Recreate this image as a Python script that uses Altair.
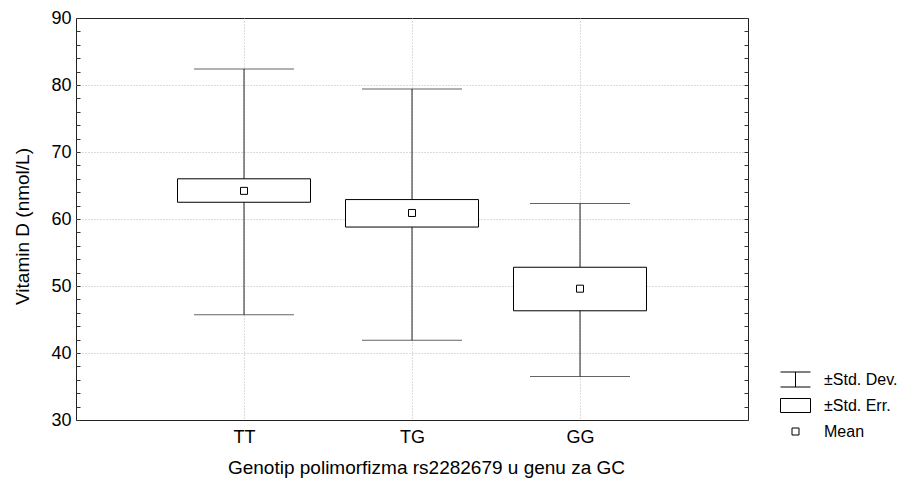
import altair as alt
import pandas as pd

genotypes = ["TT", "TG", "GG"]
means = [64.2, 60.9, 49.6]
se_low = [62.5, 58.8, 46.3]
se_high = [66.0, 62.9, 52.8]
sd_low = [45.7, 41.9, 36.5]
sd_high = [82.4, 79.4, 62.3]
y_major = [30, 40, 50, 60, 70, 80, 90]
y_minor = list(range(30, 91, 2))
legend_labels = ["±Std. Dev.", "±Std. Err.", "Mean"]
legend_paths = [
    "M-1.5,-0.75H1.5M0,-0.75V0.75M-1.5,0.75H1.5",
    "M-1.5,-0.7H1.5V0.7H-1.5Z",
    "M-0.35,-0.35H0.35V0.35H-0.35Z",
]

df = pd.DataFrame({
    "genotype": genotypes,
    "mean": means,
    "se_low": se_low,
    "se_high": se_high,
    "sd_low": sd_low,
    "sd_high": sd_high,
})
legend_df = pd.DataFrame({"label": legend_labels})

FONT = "Liberation Sans"
FS = 18
TFS = 19
GRID = "#b8b8b8"
yscale = alt.Scale(domain=[30, 90], nice=False, zero=False)

x_enc = alt.X(
    "genotype:N", sort=genotypes,
    scale=alt.Scale(type="point", padding=1),
    axis=alt.Axis(
        title="Genotip polimorfizma rs2282679 u genu za GC",
        labelAngle=0, ticks=False, domain=False, grid=True,
        gridDash=[1, 2], gridColor=GRID, gridWidth=1,
        labelFont=FONT, labelFontSize=FS, labelColor="black", labelPadding=8,
        titleFont=FONT, titleFontSize=TFS, titleFontWeight="normal",
        titleColor="black", titleX=350, titleY=47, titleBaseline="middle",
        titleAlign="center",
    ),
)

y_axis = alt.Axis(
    title="Vitamin D (nmol/L)",
    values=y_minor,
    labelExpr="datum.value % 10 == 0 ? datum.label : ''",
    offset=-4, tickSize=4, tickColor="#333333", tickWidth=1,
    domain=False, grid=True, gridDash=[1, 2], gridColor=GRID,
    gridOpacity=alt.condition("datum.value % 10 == 0 && datum.value > 30 && datum.value < 90", alt.value(1), alt.value(0)),
    labelFont=FONT, labelFontSize=FS, labelColor="black", labelPadding=5,
    titleFont=FONT, titleFontSize=TFS, titleFontWeight="normal",
    titleColor="black", titleX=-58, titleY=208, titleBaseline="middle",
    titleAlign="center", titleAngle=270,
)


def yenc(field):
    return alt.Y(f"{field}:Q", scale=yscale, axis=y_axis)


base = alt.Chart(df)

whisker = base.mark_rule(color="#222222", strokeWidth=1).encode(
    x=x_enc, y=yenc("sd_low"), y2="sd_high:Q"
)
cap_lo = base.mark_tick(color="#222222", thickness=1, size=100).encode(
    x=x_enc, y=yenc("sd_low")
)
cap_hi = base.mark_tick(color="#222222", thickness=1, size=100).encode(
    x=x_enc, y=yenc("sd_high")
)
box = base.mark_bar(fill="white", stroke="black", strokeWidth=1, size=133).encode(
    x=x_enc, y=yenc("se_low"), y2="se_high:Q"
)
mean_pt = base.mark_point(shape="square", size=49, filled=True, fill="white",
                          stroke="black", strokeWidth=1, opacity=1).encode(
    x=x_enc, y=yenc("mean")
)

legend_layer = alt.Chart(legend_df).transform_filter("false").mark_point(
    filled=False, color="black", strokeWidth=1, opacity=1
).encode(
    shape=alt.Shape(
        "label:N",
        scale=alt.Scale(domain=legend_labels, range=legend_paths),
        legend=alt.Legend(
            title=None, orient="none", legendX=709, legendY=351,
            padding=0, rowPadding=6, labelOffset=18,
            symbolSize=400, symbolStrokeWidth=1, symbolOpacity=1,
            symbolStrokeColor="black", symbolFillColor="white",
            labelFont=FONT, labelFontSize=16, labelColor="black",
        ),
    )
)

main = alt.layer(whisker, cap_lo, cap_hi, box, mean_pt, legend_layer)

right_ticks = base.mark_point(opacity=0).encode(
    x=x_enc,
    y=alt.Y("mean:Q", scale=yscale, axis=alt.Axis(
        orient="right", values=y_minor, offset=-4, tickSize=4,
        tickColor="#333333", labels=False, domain=False, grid=False, title=None,
    )),
)

chart = alt.layer(main, right_ticks).resolve_scale(y="independent").properties(
    width=672, height=402,
    autosize=alt.AutoSizeParams(type="none"),
    padding={"left": 76, "top": 18, "right": 165, "bottom": 63},
    background="white",
).configure_view(stroke="#222222", strokeWidth=1)

chart.save("out.html", embed_options={"renderer": "svg", "actions": False})
